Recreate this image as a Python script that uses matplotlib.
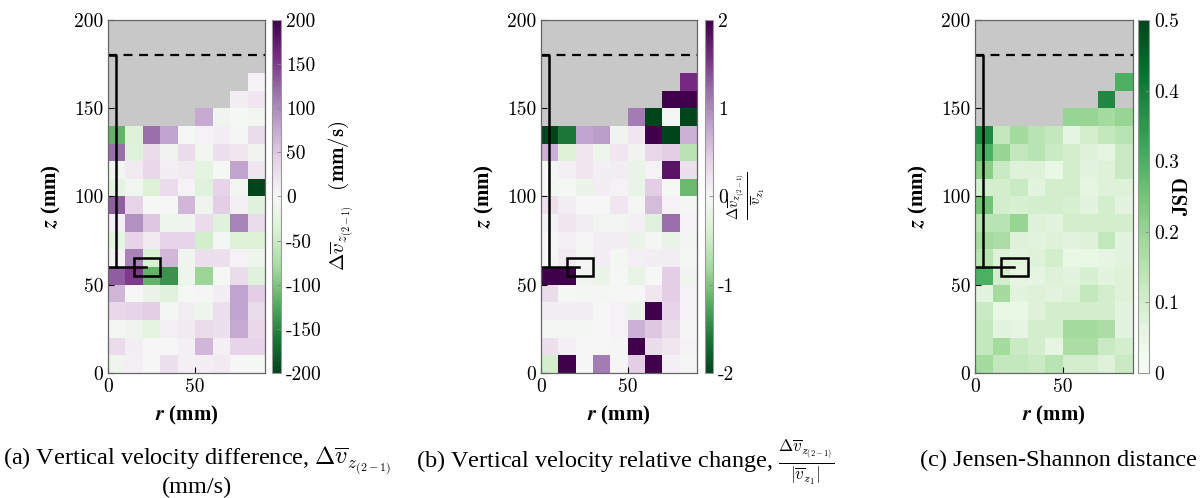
import numpy as np
import matplotlib
matplotlib.use("Agg")
import matplotlib.pyplot as plt
from matplotlib.patches import Rectangle

plt.rcParams['font.family'] = ['cmr10', 'DejaVu Serif']
plt.rcParams['mathtext.fontset'] = 'cm'
plt.rcParams['axes.unicode_minus'] = False

nan = np.nan

# cell edges (mm)
r_edges = np.arange(0, 100, 10)
z_edges = np.arange(0, 180, 10)

# rows listed from top (z 160-170) to bottom (z 0-10)
dv_rows = [
    [nan, nan, nan, nan, nan, nan, nan, nan, 5],
    [nan, nan, nan, nan, nan, nan, nan, 10, 20],
    [nan, nan, nan, nan, nan, 75, -10, -3, -8],
    [-115, -35, 120, 80, -3, 5, 10, -5, 30],
    [120, -30, 30, -10, 30, -8, 25, 20, -10],
    [-8, 15, 35, 10, 15, -25, -3, 80, 20],
    [-25, -8, -35, 30, 5, -30, 40, -8, -200],
    [130, 40, -3, 0, 65, -10, 45, 8, -30],
    [8, 95, 50, -12, -10, 30, -30, 105, 30],
    [-25, 40, 15, 40, 40, -45, -5, -35, -35],
    [5, 105, -40, 65, -10, 25, 25, 5, -12],
    [130, 150, -115, -140, -12, -85, -3, 30, -30],
    [65, 0, -15, -30, -3, 2, 10, 80, 45],
    [35, 40, 45, -5, 12, -12, 25, 80, 30],
    [-5, -10, -25, 8, 15, 30, 25, 75, 35],
    [30, 10, 0, 0, 8, 65, 8, 40, 40],
    [-10, 8, 0, 25, 8, 10, 15, 0, -3],
]

rel_rows = [
    [nan, nan, nan, nan, nan, nan, nan, nan, 1.6],
    [nan, nan, nan, nan, nan, nan, nan, 2, 2],
    [nan, nan, nan, nan, nan, 1.1, -2, -0.05, -2],
    [-2, -1.6, 0.8, 0.85, -0.1, 0.2, 2, -2, 0.7],
    [0.7, -0.35, 0.2, -0.12, 0.2, -0.1, 0.35, 0.45, -0.65],
    [-0.05, 0.08, 0.2, 0.1, 0.12, -0.2, 0.05, 1.8, 0.25],
    [-0.05, -0.03, -0.15, 0.1, 0.05, -0.2, 0.45, -0.03, -1.1],
    [0.25, 0.1, 0, 0, 0.2, -0.05, 0.6, 0.05, -0.05],
    [0.05, 0.2, 0.12, -0.08, -0.08, 0.08, -0.3, 1.2, 0.05],
    [0, 0.08, 0.03, 0.1, 0.1, -0.15, -0.05, -0.2, -0.08],
    [0.03, 0.15, -0.05, 0.12, -0.05, 0.08, 0.1, 0.12, -0.05],
    [2, 2, -0.1, -0.15, -0.03, -0.18, -0.03, 0.45, -0.1],
    [0.3, -0.02, -0.05, -0.05, -0.03, 0, 0.2, 0.45, 0.05],
    [0.1, 0.1, 0.1, 0, 0.05, -0.15, 2, 0.4, 0.05],
    [-0.05, -0.05, -0.05, 0, 0.05, 0.7, 0.5, 0.3, 0.03],
    [0.25, 0.08, 0, 0, 0.03, 2, 0.3, 0.2, 0.05],
    [-0.45, 2, 0, 1.1, 0.03, 0.45, 2, 0.08, 0.02],
]

jsd_rows = [
    [nan, nan, nan, nan, nan, nan, nan, nan, 0.3],
    [nan, nan, nan, nan, nan, nan, nan, 0.38, nan],
    [nan, nan, nan, nan, nan, 0.2, 0.2, 0.18, 0.2],
    [0.38, 0.13, 0.18, 0.15, 0.13, 0.06, 0.1, 0.13, 0.15],
    [0.3, 0.2, 0.13, 0.15, 0.12, 0.1, 0.08, 0.06, 0.12],
    [0.22, 0.12, 0.08, 0.08, 0.05, 0.1, 0.07, 0.08, 0.12],
    [0.1, 0.1, 0.12, 0.07, 0.1, 0.1, 0.06, 0.08, 0.08],
    [0.25, 0.1, 0.09, 0.1, 0.1, 0.09, 0.07, 0.1, 0.07],
    [0.15, 0.15, 0.2, 0.08, 0.07, 0.1, 0.1, 0.1, 0.1],
    [0.18, 0.17, 0.08, 0.07, 0.08, 0.07, 0.08, 0.13, 0.07],
    [0.15, 0.08, 0.07, 0.08, 0.1, 0.05, 0.05, 0.06, 0.07],
    [0.3, 0.1, 0.06, 0.06, 0.08, 0.07, 0.09, 0.07, 0.08],
    [0.07, 0.18, 0.07, 0.08, 0.07, 0.08, 0.13, 0.1, 0.08],
    [0.12, 0.05, 0.05, 0.08, 0.1, 0.1, 0.1, 0.1, 0.07],
    [0.13, 0.07, 0.06, 0.1, 0.1, 0.18, 0.18, 0.17, 0.07],
    [0.13, 0.18, 0.12, 0.1, 0.06, 0.17, 0.17, 0.12, 0.1],
    [0.18, 0.13, 0.13, 0.12, 0.15, 0.1, 0.1, 0.08, 0.12],
]

ytick_vals = [0, 50, 100, 150, 200]
xtick_vals = [0, 50]
cb_ticks_a = [-200, -150, -100, -50, 0, 50, 100, 150, 200]
cb_ticks_b = [-2, -1, 0, 1, 2]
cb_ticks_c = [0, 0.1, 0.2, 0.3, 0.4, 0.5]

captions = [
    r"(a) Vertical velocity difference, $\Delta\overline{v}_{z_{(2-1)}}$",
    r"(b) Vertical velocity relative change, $\frac{\Delta\overline{v}_{z_{(2-1)}}}{|\overline{v}_{z_1}|}$",
    "(c) Jensen-Shannon distance",
]

W, H = 1203, 498
fig = plt.figure(figsize=(W / 100, H / 100), dpi=100)

def px(x0, x1, y0, y1):
    return [x0 / W, 1 - y1 / H, (x1 - x0) / W, (y1 - y0) / H]

panels = [
    dict(rows=dv_rows, cmap='PRGn_r', vmin=-200, vmax=200, ax=(108, 265), cb=(272, 281),
         ticks=cb_ticks_a, ticklabels=[str(t) for t in cb_ticks_a],
         label=r"$\Delta\overline{v}_{z_{(2-1)}}$  $\mathbf{(mm/s)}$", lsize=15, lx=341),
    dict(rows=rel_rows, cmap='PRGn_r', vmin=-2, vmax=2, ax=(541, 697), cb=(705, 713),
         ticks=cb_ticks_b, ticklabels=[str(t) for t in cb_ticks_b],
         label=r"$\frac{\Delta\overline{v}_{z_{(2-1)}}}{\overline{v}_{z_1}}$", lsize=15, lx=747),
    dict(rows=jsd_rows, cmap='Greens', vmin=0, vmax=0.5, ax=(975, 1133), cb=(1138, 1149),
         ticks=cb_ticks_c, ticklabels=['0', '0.1', '0.2', '0.3', '0.4', '0.5'],
         label=r"$\mathbf{JSD}$", lsize=15, lx=1183),
]
cap_x = [197, 625, 1058]
cap_y = [460, 462, 460]

for i, p in enumerate(panels):
    ax = fig.add_axes(px(p['ax'][0], p['ax'][1], 20, 373))
    ax.set_facecolor('#c8c8c8')
    data = np.array(p['rows'], dtype=float)[::-1]
    mesh = ax.pcolormesh(r_edges, z_edges, np.ma.masked_invalid(data),
                         cmap=p['cmap'], vmin=p['vmin'], vmax=p['vmax'])
    ax.set_xlim(0, 90)
    ax.set_ylim(0, 200)
    ax.set_xticks(xtick_vals, [str(t) for t in xtick_vals])
    ax.set_yticks(ytick_vals, [str(t) for t in ytick_vals])
    ax.tick_params(direction='in', length=4, labelsize=14, width=0.8)
    for s in ax.spines.values():
        s.set_color('#666666')
        s.set_linewidth(0.9)
    ax.set_xlabel(r"$\mathbfit{r}$ (mm)", fontsize=15, fontweight='bold',
                  math_fontfamily='stix', family='Liberation Serif', labelpad=6)
    ax.set_ylabel(r"$\mathbfit{z}$ (mm)", fontsize=15, fontweight='bold',
                  math_fontfamily='stix', family='Liberation Serif', labelpad=8)

    # overlays
    ax.axhline(180, color='black', lw=1.6, dashes=(4, 3))
    ax.plot([0, 4.5, 4.5], [180, 180, 60], color='black', lw=1.8)
    ax.plot([0, 22], [60, 60], color='black', lw=1.8)
    ax.add_patch(Rectangle((15, 55), 15, 10, fill=False, ec='black', lw=1.8))

    cax = fig.add_axes(px(p['cb'][0], p['cb'][1], 20, 373))
    cb = fig.colorbar(mesh, cax=cax)
    cb.set_ticks(p['ticks'], labels=p['ticklabels'])
    cax.tick_params(direction='in', length=3, labelsize=14, width=0.6, color='#888888')
    cb.outline.set_edgecolor('#999999')
    fig.text(p['lx'] / W, 1 - 196 / H, p['label'], rotation=90, fontsize=p['lsize'],
             ha='center', va='center')

    fig.text(cap_x[i] / W, 1 - cap_y[i] / H, captions[i], family='Liberation Serif',
             fontsize=17.5, ha='center', va='center')

fig.text(cap_x[0] / W, 1 - 487 / H, "(mm/s)", family='Liberation Serif',
         fontsize=17.5, ha='center', va='center')

fig.savefig("out.png", dpi=100)
